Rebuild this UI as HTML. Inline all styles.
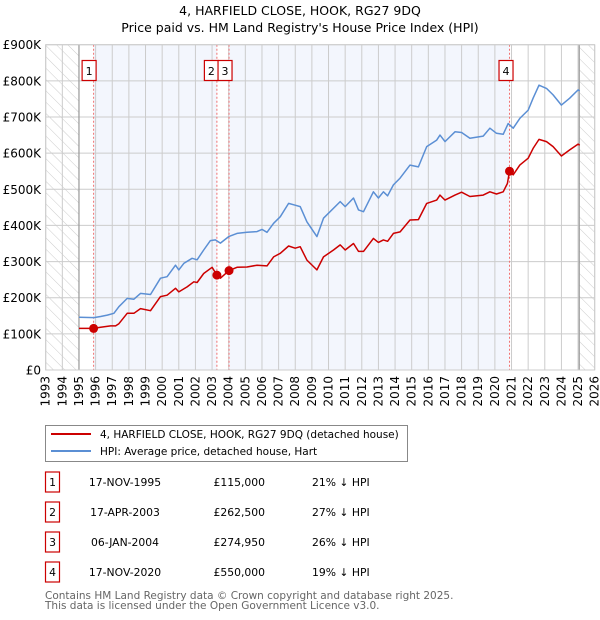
<!DOCTYPE html>
<html><head><meta charset="utf-8"><style>
body{margin:0;background:#fff;font-family:"DejaVu Sans","Liberation Sans",sans-serif;}
#wrap{position:relative;width:600px;height:620px;overflow:hidden;}
</style></head><body>
<div id="wrap">
<svg id="svg" width="600" height="620" xmlns="http://www.w3.org/2000/svg" style="position:absolute;left:0;top:0">
<defs><pattern id="hatch" patternUnits="userSpaceOnUse" width="8" height="8" patternTransform="rotate(-45)"><line x1="0" y1="0" x2="0" y2="8" stroke="#ccc" stroke-width="1"/></pattern></defs>
<text x="300" y="15" text-anchor="middle" font-size="12.5" fill="#000">4, HARFIELD CLOSE, HOOK, RG27 9DQ</text>
<text x="300" y="32" text-anchor="middle" font-size="12.5" fill="#000">Price paid vs. HM Land Registry's House Price Index (HPI)</text>
<g id="plot"></g>
<g>
<rect x="45.5" y="425.5" width="362" height="36" fill="#fff" stroke="#888"/>
<line x1="51" y1="434" x2="91" y2="434" stroke="#cc0000" stroke-width="2"/>
<text x="100" y="438" font-size="10.5">4, HARFIELD CLOSE, HOOK, RG27 9DQ (detached house)</text>
<line x1="51" y1="451" x2="91" y2="451" stroke="#5b8fd4" stroke-width="2"/>
<text x="100" y="455" font-size="10.5">HPI: Average price, detached house, Hart</text>
</g>
<g id="table" font-size="10.8"></g>
<text x="45" y="599" font-size="10.5" fill="#666">Contains HM Land Registry data © Crown copyright and database right 2025.</text>
<text x="45" y="609" font-size="10.5" fill="#666">This data is licensed under the Open Government Licence v3.0.</text>
</svg>
</div>
<script>
const hpiYears=[1995.0,1995.9,1996.3,1996.7,1997.1,1997.4,1997.9,1998.3,1998.7,1999.3,1999.9,2000.3,2000.8,2001.0,2001.3,2001.8,2002.1,2002.5,2002.9,2003.2,2003.5,2004.0,2004.5,2005.1,2005.7,2006.0,2006.3,2006.7,2007.1,2007.6,2008.0,2008.3,2008.7,2009.3,2009.7,2010.7,2011.0,2011.5,2011.8,2012.1,2012.7,2013.0,2013.3,2013.55,2013.9,2014.3,2014.9,2015.4,2015.9,2016.5,2016.7,2017.0,2017.6,2018.0,2018.5,2019.3,2019.7,2020.1,2020.5,2020.8,2021.1,2021.5,2022.0,2022.3,2022.65,2023.1,2023.5,2024.0,2024.5,2025.0,2025.1];
const hpiValues=[146,145,148,152,157,175,198,196,212,209,254,258,290,277,295,309,305,332,358,360,351,369,378,381,383,389,381,406,424,461,456,452,410,369,420,466,452,476,443,438,493,476,493,482,512,531,567,562,618,636,650,632,659,657,641,647,669,655,652,682,669,696,719,752,788,779,761,733,752,775,772];
const priceYears=[1995.0,1995.88,1996.3,1996.9,1997.2,1997.4,1997.9,1998.3,1998.7,1999.3,1999.9,2000.3,2000.8,2001.0,2001.5,2001.9,2002.1,2002.5,2003.0,2003.29,2003.5,2004.02,2004.5,2005.1,2005.7,2006.3,2006.7,2007.1,2007.6,2008.0,2008.3,2008.7,2009.3,2009.7,2010.3,2010.7,2011.0,2011.5,2011.8,2012.1,2012.7,2013.0,2013.3,2013.55,2013.9,2014.3,2014.9,2015.4,2015.9,2016.5,2016.7,2017.0,2017.6,2018.0,2018.5,2019.3,2019.7,2020.1,2020.5,2020.75,2020.88,2021.1,2021.5,2022.0,2022.3,2022.65,2023.1,2023.5,2024.0,2024.5,2025.0,2025.1];
const priceValues=[115,115,118,122,122,128,157,157,170,164,203,207,226,216,230,244,242,267,284,262.5,254,274.95,284,285,290,288,313,323,343,337,341,304,277,313,332,346,332,350,328,328,364,353,360,356,378,382,415,416,461,470,484,470,484,492,480,484,493,487,493,516,550,540,567,586,613,638,632,618,592,609,625,622];
const saleYears=[1995.88,2003.29,2004.02,2020.88];
const saleValues=[115,262.5,274.95,550];
const saleLabels=["1","2","3","4"];
const saleDates=["17-NOV-1995","17-APR-2003","06-JAN-2004","17-NOV-2020"];
const salePrices=["£115,000","£262,500","£274,950","£550,000"];
const saleHpi=["21% ↓ HPI","27% ↓ HPI","26% ↓ HPI","19% ↓ HPI"];
const yTicks=[0,100,200,300,400,500,600,700,800,900];
const yTickLabels=["£0","£100K","£200K","£300K","£400K","£500K","£600K","£700K","£800K","£900K"];

const NS="http://www.w3.org/2000/svg";
const X0=45.7,X1=594.7,Y0=370,Y1=44.7;
const x=y=>X0+(y-1993)/33*(X1-X0);
const yv=v=>Y0-v/900*(Y0-Y1);
const plot=document.getElementById('plot');
function mk(tag,attrs,parent){const e=document.createElementNS(NS,tag);for(const k in attrs)e.setAttribute(k,attrs[k]);(parent||plot).appendChild(e);return e;}
let e=mk('rect',{x:X0,y:Y1,width:X1-X0,height:Y0-Y1,fill:'#fff'});


e=mk('rect',{x:x(saleYears[0]),y:Y1,width:x(saleYears[1])-x(saleYears[0]),height:Y0-Y1,fill:'#f3f6fd'});


e=mk('rect',{x:x(saleYears[2]),y:Y1,width:x(saleYears[3])-x(saleYears[2]),height:Y0-Y1,fill:'#f3f6fd'});


e=mk('rect',{x:X0,y:Y1,width:x(1995)-X0,height:Y0-Y1,fill:'url(#hatch)'});


e=mk('rect',{x:x(2025.07),y:Y1,width:X1-x(2025.07),height:Y0-Y1,fill:'url(#hatch)'});


for(let yr=1993;yr<=2026;yr++){
 e=mk('line',{x1:x(yr),x2:x(yr),y1:Y1,y2:Y0,stroke:'#cccccc','stroke-width':1});
 
 
 e=mk('text',{x:0,y:0,transform:`translate(${x(yr)+4},376) rotate(-90)`,'text-anchor':'end','font-size':12});
 e.textContent=yr;
 
 
}
yTicks.forEach((t,i)=>{
 e=mk('line',{x1:X0,x2:X1,y1:yv(t),y2:yv(t),stroke:'#cccccc','stroke-width':1});
 
 
 e=mk('text',{x:41,y:yv(t)+4.5,'text-anchor':'end','font-size':12});
 e.textContent=yTickLabels[i];
 
 
});
e=mk('line',{x1:x(1995),x2:x(1995),y1:Y1,y2:Y0,stroke:'#999','stroke-width':1.2});


e=mk('line',{x1:x(2025.07),x2:x(2025.07),y1:Y1,y2:Y0,stroke:'#999','stroke-width':1.2});


saleYears.forEach((s,i)=>{
 e=mk('line',{x1:x(s),x2:x(s),y1:Y1,y2:Y0,stroke:'#f07070','stroke-width':1,'stroke-dasharray':'2,2'});
 
 
});
function path(xs,vs){return xs.map((a,i)=>(i?'L':'M')+x(a).toFixed(1)+','+yv(vs[i]).toFixed(1)).join('');}
e=mk('path',{d:path(hpiYears,hpiValues),fill:'none',stroke:'#5b8fd4','stroke-width':1.5,'stroke-linejoin':'round'});


e=mk('path',{d:path(priceYears,priceValues),fill:'none',stroke:'#cc0000','stroke-width':1.5,'stroke-linejoin':'round'});


const boxCx=[x(saleYears[0])-4.5,x(saleYears[1])-5.5,x(saleYears[2])-4,x(saleYears[3])-3.5];
saleYears.forEach((s,i)=>{
 e=mk('circle',{cx:x(s),cy:yv(saleValues[i]),r:4.5,fill:'#cc0000'});
 
 
 e=mk('rect',{x:boxCx[i]-7,y:60.5,width:14,height:20,fill:'#fff',stroke:'#cc0000','stroke-width':1.2});
 
 
 e=mk('text',{x:boxCx[i],y:75,'text-anchor':'middle','font-size':11});
 e.textContent=saleLabels[i];
 
 
});
e=mk('rect',{x:X0,y:Y1,width:X1-X0,height:Y0-Y1,fill:'none',stroke:'#cccccc'});


const tb=document.getElementById('table');
saleLabels.forEach((l,i)=>{
 const cy=483+i*30;
 let t=mk('rect',{x:45.5,y:cy-11,width:14,height:20,fill:'#fff',stroke:'#cc0000','stroke-width':1.2},tb);
 
 
 t=mk('text',{x:52.5,y:cy+3,'text-anchor':'middle'},tb);t.textContent=l;
 
 
 t=mk('text',{x:125,y:cy+3,'text-anchor':'middle'},tb);t.textContent=saleDates[i];
 
 
 t=mk('text',{x:265,y:cy+3,'text-anchor':'end'},tb);t.textContent=salePrices[i];
 
 
 t=mk('text',{x:312,y:cy+3},tb);t.textContent=saleHpi[i];
 
 
});
</script>
</body></html>
